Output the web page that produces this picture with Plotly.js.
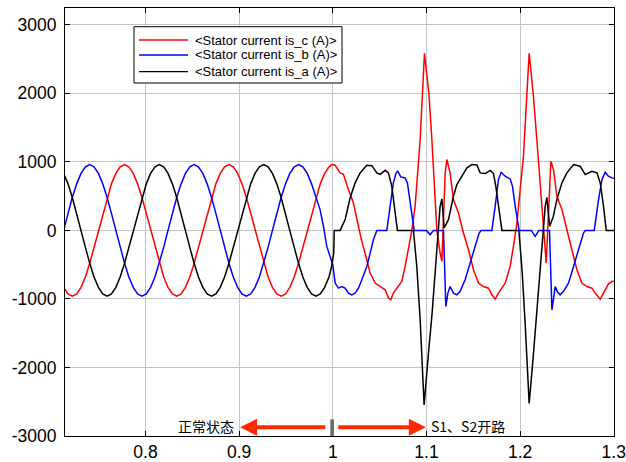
<!DOCTYPE html>
<html>
<head>
<meta charset="utf-8">
<script src="https://cdn.plot.ly/plotly-3.0.1.min.js"></script>
<style>
html,body{margin:0;padding:0;background:#fff;}
#chart{width:626px;height:462px;}
</style>
</head>
<body>
<div id="chart"></div>
<script>
// ---- data ----
const seriesNames = ['<Stator current is_c (A)>', '<Stator current is_b (A)>', '<Stator current is_a (A)>'];

// is_c (red)
const tC = [0.7125,0.7172,0.7218,0.7265,0.7311,0.7358,
  0.7404,0.7450,0.7497,0.7543,0.7590,0.7636,0.7683,0.7729,0.7776,0.7822,
  0.7869,0.7915,0.7962,0.8008,0.8054,0.8101,0.8147,0.8194,0.8240,0.8287,
  0.8333,0.8380,0.8426,0.8473,0.8519,0.8565,0.8612,0.8658,0.8705,0.8751,
  0.8798,0.8844,0.8891,0.8937,0.8984,0.9030,0.9077,0.9123,0.9169,0.9216,
  0.9262,0.9309,0.9355,0.9402,0.9448,0.9495,0.9541,0.9588,0.9634,0.9680,
  0.9727,0.9773,0.9820,0.9866,0.9913,0.9959,
  0.9989,1.0025,1.0078,1.0113,1.0167,1.0220,1.0274,1.0310,1.0363,1.0399,
  1.0452,1.0505,1.0559,1.0594,1.0620,1.0647,1.0701,1.0737,1.0772,1.0808,
  1.0844,1.0879,1.0915,1.0933,1.0979,1.1026,1.1058,1.1111,1.1146,1.1165,
  1.1200,1.1218,1.1253,1.1288,1.1342,1.1395,1.1449,1.1502,1.1556,1.1609,
  1.1662,1.1699,1.1734,1.1769,1.1841,1.1894,1.1929,1.1966,1.2001,1.2036,
  1.2097,1.2140,1.2179,1.2252,1.2279,1.2329,1.2357,1.2393,1.2447,1.2500,
  1.2553,1.2607,1.2660,1.2714,1.2767,1.2802,1.2856,1.2909,1.2944,1.2981,1.3005];
const isC = [-831,-927,-960,-927,-831,-679,
  -480,-248,0,248,480,679,831,927,960,927,
  831,679,480,248,0,-248,-480,-679,-831,-927,
  -960,-927,-831,-679,-480,-248,0,248,480,679,
  831,927,960,927,831,679,480,248,0,-248,
  -480,-679,-831,-927,-960,-927,-831,-679,-480,-248,
  0,248,480,679,831,927,
  960,951,839,818,595,400,58,-161,-428,-623,
  -769,-819,-867,-988,-1013,-915,-819,-746,-526,-282,
  0,351,936,1326,2583,2000,1326,0,-330,-453,
  839,1034,839,449,254,-38,-282,-575,-769,-819,
  -843,-940,-1003,-915,-769,-526,-234,108,595,1082,
  2583,2000,1326,0,-477,1009,887,497,303,10,
  -282,-575,-769,-819,-843,-915,-1003,-867,-779,-746,-740];

// is_b (blue)
const tB = [0.7125,0.7172,0.7218,0.7265,0.7311,0.7358,
  0.7404,0.7450,0.7497,0.7543,0.7590,0.7636,0.7683,0.7729,0.7776,0.7822,
  0.7869,0.7915,0.7962,0.8008,0.8054,0.8101,0.8147,0.8194,0.8240,0.8287,
  0.8333,0.8380,0.8426,0.8473,0.8519,0.8565,0.8612,0.8658,0.8705,0.8751,
  0.8798,0.8844,0.8891,0.8937,0.8984,0.9030,0.9077,0.9123,0.9169,0.9216,
  0.9262,0.9309,0.9355,0.9402,0.9448,0.9495,0.9541,0.9588,0.9634,0.9680,
  0.9727,0.9773,0.9820,
  0.9864,0.9900,0.9936,0.9971,1.0000,1.0025,1.0060,1.0096,1.0131,1.0167,
  1.0203,1.0238,1.0274,1.0310,1.0363,1.0399,1.0434,1.0470,1.0577,1.0612,
  1.0647,1.0676,1.0694,1.0726,1.0772,1.0797,1.0826,1.0855,1.0869,1.1000,
  1.1040,1.1075,1.1182,1.1207,1.1229,1.1253,1.1288,1.1325,1.1360,1.1413,
  1.1467,1.1520,1.1563,1.1584,1.1699,1.1734,1.1769,1.1798,1.1841,1.1894,
  1.1919,1.1948,1.1976,1.1990,1.2120,1.2161,1.2200,1.2314,1.2340,1.2375,
  1.2400,1.2428,1.2464,1.2517,1.2571,1.2624,1.2677,1.2696,1.2792,1.2838,
  1.2874,1.2909,1.2944,1.2981,1.3005];
const isB = [0,248,480,679,831,927,
  960,927,831,679,480,248,0,-248,-480,-679,
  -831,-927,-960,-927,-831,-679,-480,-248,0,248,
  480,679,831,927,960,927,831,679,480,248,
  0,-248,-480,-679,-831,-927,-960,-927,-831,-679,
  -480,-248,0,248,480,679,831,927,960,927,
  831,679,480,
  303,58,-234,-380,-501,-769,-842,-819,-843,-915,
  -940,-915,-843,-721,-526,-331,-136,0,0,351,
  693,839,863,781,766,693,400,108,0,0,
  -63,0,0,-1111,-915,-819,-915,-940,-890,-721,
  -477,-234,-38,0,0,351,741,848,790,751,
  643,351,83,0,0,-88,0,0,-1159,-819,
  -900,-940,-890,-769,-526,-282,-38,0,0,449,
  741,848,790,766,760];

// is_a (black)
const tA = [0.7125,0.7172,0.7218,0.7265,0.7311,0.7358,
  0.7404,0.7450,0.7497,0.7543,0.7590,0.7636,0.7683,0.7729,0.7776,0.7822,
  0.7869,0.7915,0.7962,0.8008,0.8054,0.8101,0.8147,0.8194,0.8240,0.8287,
  0.8333,0.8380,0.8426,0.8473,0.8519,0.8565,0.8612,0.8658,0.8705,0.8751,
  0.8798,0.8844,0.8891,0.8937,0.8984,0.9030,0.9077,0.9123,0.9169,0.9216,
  0.9262,0.9309,0.9355,0.9402,0.9448,0.9495,0.9541,0.9588,0.9634,0.9680,
  0.9727,0.9773,0.9820,0.9866,0.9913,0.9959,
  0.9989,1.0010,1.0015,1.0078,1.0131,1.0185,1.0238,1.0292,1.0363,1.0417,
  1.0470,1.0505,1.0559,1.0594,1.0630,1.0666,1.0690,1.0861,1.0897,1.0933,
  1.0975,1.1018,1.1061,1.1111,1.1146,1.1165,1.1189,1.1235,1.1288,1.1325,
  1.1378,1.1432,1.1485,1.1538,1.1574,1.1627,1.1681,1.1716,1.1741,1.1777,
  1.1806,1.1987,1.2022,1.2054,1.2097,1.2140,1.2183,1.2231,1.2268,1.2286,
  1.2316,1.2354,1.2393,1.2447,1.2500,1.2571,1.2642,1.2696,1.2767,1.2821,
  1.2856,1.2891,1.2920,1.3005];
const isA = [831,679,480,248,0,-248,
  -480,-679,-831,-927,-960,-927,-831,-679,-480,-248,
  0,248,480,679,831,927,960,927,831,679,
  480,248,0,-248,-480,-679,-831,-927,-960,-927,
  -831,-679,-480,-248,0,248,480,679,831,927,
  960,927,831,679,480,248,0,-248,-480,-679,
  -831,-927,-960,-927,-831,-679,
  -520,-330,0,0,156,473,693,839,950,945,
  839,818,877,839,643,278,0,0,-526,-1305,
  -2548,-1850,-1200,-282,351,459,35,156,497,668,
  790,912,960,955,839,829,875,830,643,303,
  0,0,-600,-1350,-2524,-1850,-1150,-280,350,480,
  60,200,449,693,839,960,936,814,863,839,
  693,351,0,0];

const xTicks = [0.8, 0.9, 1.0, 1.1, 1.2, 1.3];
const xTickText = ['0.8', '0.9', '1', '1.1', '1.2', '1.3'];
const yTicks = [-3000, -2000, -1000, 0, 1000, 2000, 3000];
const yTickText = ['-3000', '-2000', '-1000', '0', '1000', '2000', '3000'];

const colors = ['#ff0000', '#0000ff', '#000000'];
const leftLabel = '正常状态';
const rightLabel = 'S1、S2开路';

// ---- build ----
const esc = s => s.replace(/&/g,'&amp;').replace(/</g,'&lt;').replace(/>/g,'&gt;');
const xs = [tC, tB, tA];
const ys = [isC, isB, isA];
const traces = xs.map((x, i) => ({
  x: x, y: ys[i], type: 'scatter', mode: 'lines',
  name: esc(seriesNames[i]), showlegend: false,
  line: {color: colors[i], width: 1.5}
}));

const axisCommon = {
  showgrid: true, gridcolor: '#c4c4c4', gridwidth: 1,
  showline: true, linecolor: '#000', linewidth: 1, mirror: 'ticks',
  ticks: 'inside', ticklen: 5, tickcolor: '#000', tickwidth: 1,
  zeroline: false, ticklabeloverflow: 'allow',
  tickfont: {family: 'Liberation Sans, Arial, sans-serif', size: 17.5, color: '#000'}
};

// legend box (paper coords)
const legX0 = 0.1257, legX1 = 0.5046, legY0 = 0.8248, legY1 = 0.9563;
const rowY = [0.9252, 0.8902, 0.8512];
const shapes = [
  {type: 'rect', xref: 'paper', yref: 'paper', x0: legX0, x1: legX1, y0: legY0, y1: legY1,
   fillcolor: '#fff', line: {color: '#000', width: 1}, layer: 'above'},
  {type: 'rect', xref: 'x', yref: 'y', x0: 0.9973, x1: 1.0013, y0: -3000, y1: -2758,
   fillcolor: '#6e6e6e', line: {width: 0}, layer: 'above'}
];
const annotations = [];
seriesNames.forEach((n, i) => {
  shapes.push({type: 'line', xref: 'paper', yref: 'paper', x0: 0.1348, x1: 0.2240, y0: rowY[i], y1: rowY[i],
    line: {color: colors[i], width: 1.3}, layer: 'above'});
  annotations.push({xref: 'paper', yref: 'paper', x: 0.2332, y: rowY[i], xanchor: 'left', yanchor: 'middle',
    text: esc(n), showarrow: false,
    font: {family: 'Liberation Sans, Arial, sans-serif', size: 13, color: '#000'}});
});
// arrows
annotations.push({x: 0.901, y: -2872, ax: 0.9936, ay: -2872, axref: 'x', ayref: 'y', xref: 'x', yref: 'y',
  text: '', showarrow: true, arrowhead: 2, arrowsize: 0.85, arrowwidth: 4, arrowcolor: '#ff2a00'});
annotations.push({x: 1.0994, y: -2872, ax: 1.0043, ay: -2872, axref: 'x', ayref: 'y', xref: 'x', yref: 'y',
  text: '', showarrow: true, arrowhead: 2, arrowsize: 0.85, arrowwidth: 4, arrowcolor: '#ff2a00'});
annotations.push({x: 0.8968, y: -2855, xref: 'x', yref: 'y', xanchor: 'right', yanchor: 'middle',
  text: leftLabel, showarrow: false,
  font: {family: 'Noto Sans CJK SC, sans-serif', size: 14, color: '#000'}});
annotations.push({x: 1.1032, y: -2855, xref: 'x', yref: 'y', xanchor: 'left', yanchor: 'middle',
  text: rightLabel, showarrow: false,
  font: {family: 'Noto Sans CJK SC, sans-serif', size: 14, color: '#000'}});

const layout = {
  width: 626, height: 462,
  margin: {l: 65, r: 12, t: 8, b: 26, pad: 0},
  paper_bgcolor: '#fff', plot_bgcolor: '#fff',
  showlegend: false,
  xaxis: Object.assign({}, axisCommon, {range: [0.714, 1.3003], tickvals: xTicks, ticktext: xTickText, ticklabelstandoff: 0}),
  yaxis: Object.assign({}, axisCommon, {range: [-3000, 3245], tickvals: yTicks, ticktext: yTickText, ticklabelstandoff: 4}),
  shapes: shapes,
  annotations: annotations
};

Plotly.newPlot('chart', traces, layout, {displayModeBar: false, staticPlot: true});
</script>
</body>
</html>
